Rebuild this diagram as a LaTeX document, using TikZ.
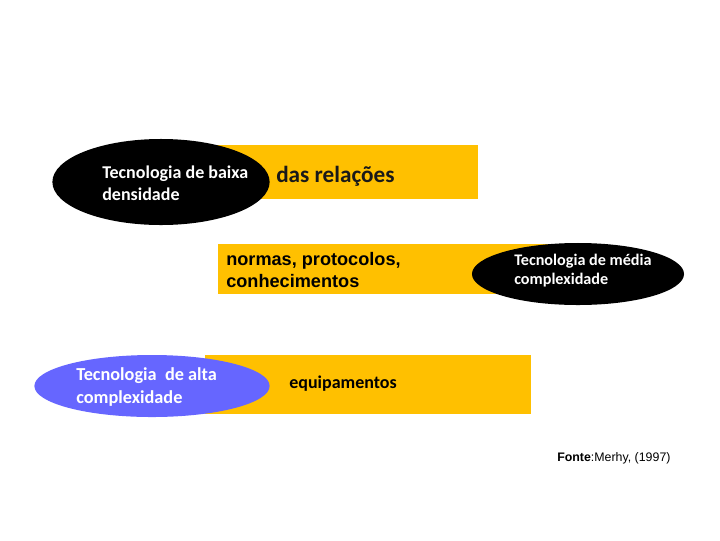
\documentclass[tikz,border=0pt]{standalone}
\usepackage{fontspec}
\setmainfont{Carlito}
\newfontfamily\arialfont{Liberation Sans}
\usetikzlibrary{shapes.geometric}
\definecolor{faixa}{RGB}{255,192,0}
\definecolor{azul}{RGB}{102,102,255}

\begin{document}
\begin{tikzpicture}[x=0.025cm, y=-0.025cm,
  faixa/.style={fill=faixa},
  bolha/.style={ellipse, inner sep=0pt},
  rotulo/.style={anchor=west, align=left, inner sep=0pt, text=white,
    font=\bfseries\fontsize{12.8}{15.6}\selectfont}]
\useasboundingbox (0,0) rectangle (720,540);

% faixas
\fill[faixa] (160,145) rectangle (478,199);
\fill[faixa] (218,244) rectangle (548,294);
\fill[faixa] (205,355) rectangle (531,414);

% baixa densidade
\node[bolha, fill=black, minimum width=5.43cm, minimum height=2.15cm] (baixa) at (161,182) {};
\node[rotulo] (baixatxt) at (102,183) {Tecnologia de baixa\\densidade};
\node[anchor=west, inner sep=0pt, text=black!90, font=\bfseries\fontsize{16.5}{18}\selectfont] (relacoes) at (276,176) {das relações};

% media complexidade
\node[anchor=west, align=left, inner sep=0pt, font=\arialfont\bfseries\fontsize{12.9}{15.6}\selectfont] (normas) at (226,270) {normas, protocolos,\\conhecimentos};
\node[bolha, fill=black, minimum width=5.3cm, minimum height=1.55cm] (media) at (578,274) {};
\node[rotulo, font=\bfseries\fontsize{11.5}{13.5}\selectfont] (mediatxt) at (514,271) {Tecnologia de média\\complexidade};

% alta complexidade
\node[bolha, fill=azul, minimum width=5.88cm, minimum height=1.55cm] (alta) at (152,386) {};
\node[rotulo, font=\bfseries\fontsize{13}{16.3}\selectfont] (altatxt) at (76,387) {Tecnologia~ de alta\\complexidade};
\node[anchor=west, inner sep=0pt, font=\bfseries\fontsize{12.8}{14}\selectfont] (equip) at (289,384) {equipamentos};

\node[anchor=west, inner sep=0pt, font=\arialfont\fontsize{8.8}{10}\selectfont] (fonte) at (557,458) {\textbf{Fonte}:Merhy, (1997)};
\end{tikzpicture}
\end{document}
